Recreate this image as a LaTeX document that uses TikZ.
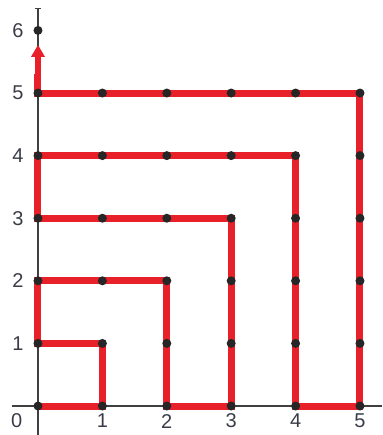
\documentclass[tikz,border=0pt]{standalone}
\usepackage{fontspec}
\setmainfont{Liberation Sans}
\usetikzlibrary{arrows.meta}
\definecolor{pathred}{HTML}{E8202A}
\definecolor{labelcol}{HTML}{3A3D48}
\begin{document}
\begin{tikzpicture}[x=64.4pt,y=62.6pt,
  axis/.style={line width=1.4pt,draw=black!75},
  route/.style={line width=7pt,draw=pathred,line join=miter},
  dot/.style={circle,fill=black!85,inner sep=0pt,minimum size=9pt},
  lab/.style={font=\fontsize{20}{20}\selectfont,text=labelcol,inner sep=0pt}]
\useasboundingbox (-0.59,-0.463) rectangle (5.342,6.486);
% axes
\coordinate (xs) at (-0.4,0);
\coordinate (xe) at (5.342,0);
\coordinate (ys) at (0,-0.463);
\coordinate (ye) at (0,6.36);
\draw[axis] (xs) -- (xe);
\draw[axis,-{Bar[width=6pt]}] (ys) -- (ye);
% grid points
\foreach \x/\y in {0/0,1/0,2/0,3/0,4/0,5/0,1/1,0/1,0/2,1/2,2/2,2/1,3/1,3/2,3/3,2/3,1/3,0/3,0/4,1/4,2/4,3/4,4/4,4/3,4/2,4/1,5/1,5/2,5/3,5/4,5/5,4/5,3/5,2/5,1/5,0/5,0/6}
  \coordinate (p\x\y) at (\x,\y);
% red route
\draw[route] (p00) -- (p10) -- (p11) -- (p01) -- (p02) -- (p22) -- (p20) -- (p30) -- (p33) -- (p03) -- (p04) -- (p44) -- (p40) -- (p50) -- (p55) -- (p05) -- ++(0,0.3);
\coordinate (a1) at (0,5.28);
\coordinate (a2) at (0,5.77);
\draw[draw=pathred,line width=6pt,-{Triangle[length=12pt,width=13pt]}] (a1) -- (a2);
% dots
\foreach \x/\y in {0/0,1/0,2/0,3/0,4/0,5/0,1/1,0/1,0/2,1/2,2/2,2/1,3/1,3/2,3/3,2/3,1/3,0/3,0/4,1/4,2/4,3/4,4/4,4/3,4/2,4/1,5/1,5/2,5/3,5/4,5/5,4/5,3/5,2/5,1/5,0/5,0/6}
  \node[dot] (d\x\y) at (p\x\y) {};
% labels
\node[lab] (l0) at (-0.33,-0.24) {0};
\foreach \x in {1,...,5} \node[lab] (lx\x) at (\x,-0.24) {\x};
\foreach \y in {1,...,6} \node[lab] (ly\y) at (-0.31,\y) {\y};
\end{tikzpicture}
\end{document}
